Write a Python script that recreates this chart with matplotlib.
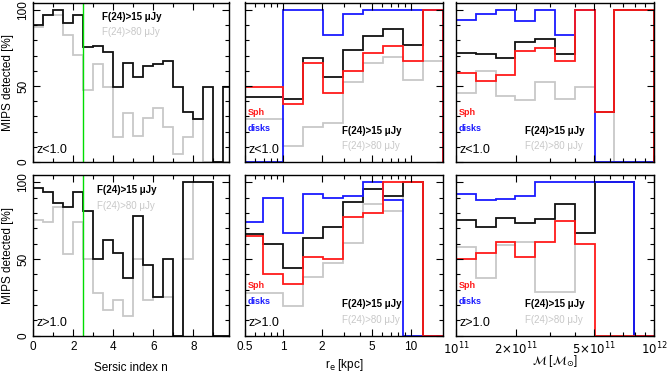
import numpy as np
import matplotlib
matplotlib.use("Agg")
import matplotlib.pyplot as plt
from matplotlib.ticker import FixedLocator, NullFormatter, FixedFormatter

plt.rcParams['font.family'] = ['Liberation Sans', 'DejaVu Sans']
plt.rcParams['mathtext.fontset'] = 'dejavusans'

# ---------------- data ----------------
# Sersic index bins (width 0.5)
n_edges = np.arange(0, 10.01, 0.5)
n_lo_f15 = [90.1, 96.5, 100, 91.2, 97.1, 75.4, 76.3, 72.6, 49.6, 64.9,
            55.7, 63.2, 64.5, 66.4, 49.6, 32.9, 28.3, 49.6, 0, 49.6]
n_lo_f80 = [89, 96.5, 96.5, 83.6, 70.4, 47.4, 64.3, 49.6, 16.7, 32.0,
            17.1, 28.7, 35.3, 23.2, 5.3, 16.7, 28.3, 0, 0, 0]
n_hi_f15 = [96.1, 93.9, 86.3, 83.7, 93.9, 81.5, 49.8, 62.4, 53.7, 37.4,
            78.3, 46.1, 25.0, 49.8, 0, 100, 100, 100, 0, 0]
n_hi_f80 = [75.4, 74.3, 83.7, 53.3, 74.3, 49.8, 28.0, 16.7, 23.3, 12.8,
            49.8, 23.3, 25.0, 25.0, 0, 50, 100, 100, 0, 0]
n_split = 2.5

# effective radius bins (log-spaced, kpc)
re_edges = 10 ** (0.157 * np.arange(-2, 9))
re_lo_f15 = [42.5, 42.5, 41.4, 68.6, 56.1, 73.7, 82.9, 87.3, 77.0, 100]
re_lo_f80 = [28.3, 28.3, 10.5, 23.2, 25.9, 52.9, 64.9, 68.9, 53.9, 66.4]
re_lo_sph = [49.6, 49.6, 38.4, 64.9, 45.2, 59.9, 71.5, 76.3, 66.4, 100]
re_lo_disk = [0, 0, 100, 100, 83.6, 97.4, 100, 100, 100, 100]
re_hi_f15 = [66.3, 59.8, 43.9, 63.5, 71.1, 87.4, 95.7, 91.1, 100, 0]
re_hi_f80 = [28.0, 28.0, 19.3, 38.0, 47.6, 60.7, 85.7, 81.5, 100, 0]
re_hi_sph = [65.0, 40.2, 33.5, 51.1, 49.8, 77.6, 79.8, 100, 100, 0]
re_hi_disk = [74.3, 89.6, 66.7, 92.4, 89.6, 91.1, 100, 88.5, 0, 0]

# stellar mass bins (log M = 11.0 ... 12.0, step 0.1)
m_edges = 10 ** np.arange(11.0, 12.01, 0.1)
m_lo_f15 = [71.5, 71.0, 68.2, 79.2, 80.9, 71.0, 100, 33.1, 100, 100]
m_lo_f80 = [45.2, 59.9, 43.4, 40.8, 52.9, 41.2, 49.6, 33.1, 0, 0]
m_lo_sph = [58.3, 53.5, 57.0, 73.2, 74.8, 66.7, 100, 33.1, 100, 100]
m_lo_disk = [93.4, 97.4, 100, 92.8, 100, 83.6, 100, 0, 0, 0]
m_hi_f15 = [75.4, 70.7, 76.5, 73.7, 75.9, 85.7, 66.7, 100, 100, 0]
m_hi_f80 = [58.0, 37.4, 59.1, 61.3, 28.7, 28.7, 66.7, 100, 100, 0]
m_hi_sph = [49.8, 54.1, 61.3, 51.5, 61.3, 74.8, 59.8, 0, 0, 0]
m_hi_disk = [92.2, 88.5, 88.9, 91.1, 100, 100, 100, 100, 100, 0]

# ---------------- style ----------------
C_GRAY = '#c8c8c8'
C_BLACK = '#111111'
C_RED = '#ff1a1a'
C_BLUE = '#1a1aff'
C_GREEN = '#00dd00'
LW = 1.3

W, H = 667, 377
fig = plt.figure(figsize=(W / 100, H / 100), dpi=100)

cols = [(33.3, 196.0), (245.0, 198.0), (456.0, 198.0)]
rows = [(2.5, 162.0), (174.7, 335.7)]

def make_ax(c, r):
    x0, w = cols[c]
    yt, yb = rows[r]
    return fig.add_axes([x0 / W, 1 - yb / H, w / W, (yb - yt) / H])

axes = [[make_ax(c, r) for c in range(3)] for r in range(2)]

def style(ax, show_ylab, show_xlab):
    ax.set_ylim(0, 105)
    ax.yaxis.set_major_locator(FixedLocator([0, 50, 100]))
    ax.yaxis.set_minor_locator(FixedLocator(np.arange(0, 101, 10)))
    ax.tick_params(which='both', direction='in', top=True, right=True,
                   width=0.8, colors='black', labelsize=8.5)
    ax.tick_params(which='major', length=5)
    ax.tick_params(which='minor', length=3)
    ax.tick_params(axis='y', pad=3)
    for s in ax.spines.values():
        s.set_linewidth(1.0)
    if show_ylab:
        for lab in ax.get_yticklabels():
            lab.set_rotation(90)
            lab.set_va('center')
        ax.set_ylabel('MIPS detected [%]', fontsize=8.5, labelpad=2)
    else:
        ax.yaxis.set_major_formatter(NullFormatter())
    if not show_xlab:
        ax.xaxis.set_major_formatter(NullFormatter())
    ax.xaxis.set_minor_formatter(NullFormatter())

def steps(ax, vals, edges, color):
    ax.stairs(vals, edges, color=color, linewidth=LW, baseline=0)

def labels(ax, zt, f15xy, sph=True):
    fx, fy = f15xy
    ax.text(fx, fy, 'F(24)>15 μJy', transform=ax.transAxes, fontsize=7,
            fontweight='bold', color='black', va='center')
    ax.text(fx, fy - 0.097, 'F(24)>80 μJy', transform=ax.transAxes,
            fontsize=7, color=C_GRAY, va='center')
    ax.text(0.018, 0.078, zt, transform=ax.transAxes, fontsize=9,
            color='black', va='center')
    if sph:
        ax.text(0.012, 0.31, 'Sph', transform=ax.transAxes, fontsize=6.5,
                fontweight='bold', color=C_RED, va='center')
        ax.text(0.012, 0.213, 'disks', transform=ax.transAxes, fontsize=6.5,
                fontweight='bold', color=C_BLUE, va='center')

def set_xlabel(ax, text, ypix):
    ax.set_xlabel(text, fontsize=8.5)
    ax.xaxis.set_label_coords(0.5, (335.7 - ypix) / 161.0)
    ax.xaxis.label.set_va('center')

# ---- Sersic panels ----
for r, (f15, f80, zt) in enumerate([(n_lo_f15, n_lo_f80, 'z<1.0'),
                                    (n_hi_f15, n_hi_f80, 'z>1.0')]):
    ax = axes[r][0]
    steps(ax, f80, n_edges, C_GRAY)
    steps(ax, f15, n_edges, C_BLACK)
    ax.axvline(n_split, color=C_GREEN, linewidth=1.0)
    ax.set_xlim(0, 9.8)
    ax.xaxis.set_major_locator(FixedLocator([0, 2, 4, 6, 8]))
    ax.xaxis.set_minor_locator(FixedLocator([1, 3, 5, 7, 9]))
    style(ax, True, r == 1)
    labels(ax, zt, (0.35, 0.91) if r == 0 else (0.325, 0.905), sph=False)
set_xlabel(axes[1][0], 'Sersic index n', 368)

# ---- r_e panels ----
for r, (f15, f80, sph, dsk, zt) in enumerate([
        (re_lo_f15, re_lo_f80, re_lo_sph, re_lo_disk, 'z<1.0'),
        (re_hi_f15, re_hi_f80, re_hi_sph, re_hi_disk, 'z>1.0')]):
    ax = axes[r][1]
    ax.set_xscale('log')
    steps(ax, f80, re_edges, C_GRAY)
    steps(ax, f15, re_edges, C_BLACK)
    steps(ax, dsk, re_edges, C_BLUE)
    steps(ax, sph, re_edges, C_RED)
    ax.set_xlim(0.5, 18)
    ax.xaxis.set_major_locator(FixedLocator([0.5, 1, 2, 5, 10]))
    ax.xaxis.set_major_formatter(FixedFormatter(['0.5', '1', '2', '5', '10']))
    ax.xaxis.set_minor_locator(FixedLocator([0.6, 0.7, 0.8, 0.9, 3, 4, 6, 7, 8, 9]))
    style(ax, False, r == 1)
    labels(ax, zt, (0.49, 0.197))
set_xlabel(axes[1][1], r'r$_{\rm e}$ [kpc]', 365)

# ---- mass panels ----
for r, (f15, f80, sph, dsk, zt) in enumerate([
        (m_lo_f15, m_lo_f80, m_lo_sph, m_lo_disk, 'z<1.0'),
        (m_hi_f15, m_hi_f80, m_hi_sph, m_hi_disk, 'z>1.0')]):
    ax = axes[r][2]
    ax.set_xscale('log')
    steps(ax, f80, m_edges, C_GRAY)
    steps(ax, f15, m_edges, C_BLACK)
    steps(ax, dsk, m_edges, C_BLUE)
    steps(ax, sph, m_edges, C_RED)
    ax.set_xlim(1e11, 1e12)
    ax.xaxis.set_major_locator(FixedLocator([1e11, 2e11, 5e11, 1e12]))
    ax.xaxis.set_major_formatter(FixedFormatter(
        [r'$10^{11}$', r'$2{\times}10^{11}$', r'$5{\times}10^{11}$', r'$10^{12}$']))
    ax.xaxis.set_minor_locator(FixedLocator([3e11, 4e11, 6e11, 7e11, 8e11, 9e11]))
    style(ax, False, r == 1)
    labels(ax, zt, (0.348, 0.195))
set_xlabel(axes[1][2], r'$\mathcal{M}$ [$\mathcal{M}_{\odot}$]', 361)

fig.savefig('out.png', dpi=100)
